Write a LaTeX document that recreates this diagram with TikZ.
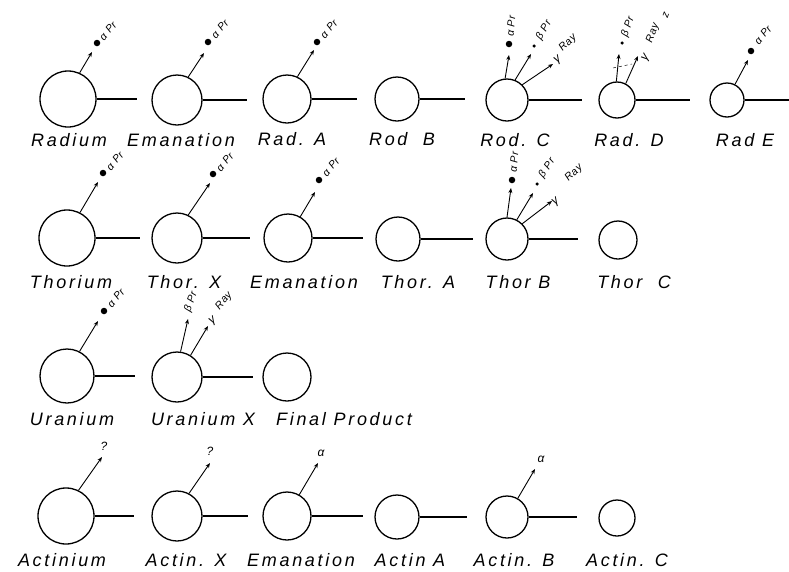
\documentclass[tikz,border=0pt]{standalone}
\usepackage{fontspec}
\newfontfamily\labfont[LetterSpace=15]{Liberation Sans}
\newfontfamily\smallfont[LetterSpace=6]{Liberation Sans}
\usetikzlibrary{arrows.meta}
\begin{document}
\begin{tikzpicture}[x=1pt,y=-1pt,
  atom/.style={circle,draw,line width=1.3pt,inner sep=0pt},
  bond/.style={line width=1.5pt},
  emit/.style={line width=0.9pt,-{Stealth[length=5pt,width=4pt]}},
  pdot/.style={circle,fill,inner sep=0pt,minimum size=6.5pt},
  bdot/.style={circle,fill,inner sep=0pt,minimum size=3.5pt},
  elemlabel/.style={font=\labfont\fontsize{18pt}{18pt}\selectfont\itshape},
  elab/.style={font=\smallfont\fontsize{10.5pt}{10.5pt}\selectfont\itshape,inner sep=1pt},
  glyph/.style={font=\smallfont\fontsize{12pt}{12pt}\selectfont\itshape,inner sep=1pt}]
\useasboundingbox (0,0) rectangle (789,571);

% ---------------- Row 1: Radium series ----------------
\node[atom,minimum size=56pt] (ra) at (68,99) {};
\coordinate (ra-e) at (137,99);
\draw[bond] (ra.east) -- (ra-e);
\coordinate (ra-t) at (92,52);
\draw[emit] (ra.66) -- (ra-t);
\node[pdot] (ra-d) at (97,43) {};
\node[elab,rotate=50] (ra-l) at (108,31) {α Pr};
\node[elemlabel] (ra-n) at (69,140) {Radium};

\node[atom,minimum size=50pt] (em1) at (177,100) {};
\coordinate (em1-e) at (247,100);
\draw[bond] (em1.east) -- (em1-e);
\coordinate (em1-t) at (204,53);
\draw[emit] (em1.64) -- (em1-t);
\node[pdot] (em1-d) at (208,42) {};
\node[elab,rotate=50] (em1-l) at (220,29) {α Pr};
\node[elemlabel] (em1-n) at (181,140) {Emanation};

\node[atom,minimum size=48pt] (rA) at (287,99) {};
\coordinate (rA-e) at (357,99);
\draw[bond] (rA.east) -- (rA-e);
\coordinate (rA-t) at (314,50);
\draw[emit] (rA.65) -- (rA-t);
\node[pdot] (rA-d) at (317,42) {};
\node[elab,rotate=50] (rA-l) at (329,29) {α Pr};
\node[elemlabel] (rA-n) at (292,139) {Rad. A};

\node[atom,minimum size=44pt] (rB) at (397,99) {};
\coordinate (rB-e) at (465,99);
\draw[bond] (rB.east) -- (rB-e);
\node[elemlabel] (rB-n) at (402,139) {Rod\ \ B};

\node[atom,minimum size=42pt] (rC) at (507,100) {};
\coordinate (rC-e) at (582,100);
\draw[bond] (rC.east) -- (rC-e);
\coordinate (rC-ta) at (509,55);
\draw[emit] (rC.95) -- (rC-ta);
\node[pdot] (rC-da) at (509,44) {};
\node[elab,rotate=85] (rC-la) at (511,26) {α Pr};
\coordinate (rC-tb) at (531,54);
\draw[emit] (rC.68) -- (rC-tb);
\node[bdot] (rC-db) at (534,46) {};
\node[elab,rotate=60] (rC-lb) at (544,30) {β Pr};
\coordinate (rC-tg) at (553,64);
\draw[emit] (rC.45) -- (rC-tg);
\node[glyph,rotate=40] (rC-g) at (558,60) {γ};
\node[elab,rotate=45] (rC-lg) at (568,43) {Ray};
\node[elemlabel] (rC-n) at (515,140) {Rod. C};

\node[atom,minimum size=36pt] (rD) at (617,100) {};
\coordinate (rD-e) at (690,100);
\draw[bond] (rD.east) -- (rD-e);
\coordinate (rD-tb) at (619,54);
\draw[emit] (rD.92) -- (rD-tb);
\node[bdot] (rD-db) at (622,43) {};
\node[elab,rotate=70] (rD-lb) at (628,27) {β Pr};
\coordinate (rD-tg) at (638,56);
\draw[emit] (rD.62) -- (rD-tg);
\node[glyph,rotate=60] (rD-g) at (646,58) {γ};
\node[elab,rotate=70] (rD-lg) at (653,33) {Ray};
\node[elab,rotate=70] (rD-z) at (666,15) {z};
\coordinate (rD-x1) at (613,68);
\coordinate (rD-x2) at (632,64);
\draw[dashed,line width=0.5pt] (rD-x1) -- (rD-x2);
\node[elemlabel] (rD-n) at (629,140) {Rad. D};

\node[atom,minimum size=34pt] (rE) at (727,100) {};
\coordinate (rE-e) at (789,100);
\draw[bond] (rE.east) -- (rE-e);
\coordinate (rE-t) at (748,60);
\draw[emit] (rE.63) -- (rE-t);
\node[pdot] (rE-d) at (751,51) {};
\node[elab,rotate=50] (rE-l) at (763,35) {α Pr};
\node[elemlabel] (rE-n) at (745,140) {Rad E};

% ---------------- Row 2: Thorium series ----------------
\node[atom,minimum size=56pt] (th) at (67,238) {};
\coordinate (th-e) at (140,238);
\draw[bond] (th.east) -- (th-e);
\coordinate (th-t) at (98,182);
\draw[emit] (th.63) -- (th-t);
\node[pdot] (th-d) at (103,173) {};
\node[elab,rotate=50] (th-l) at (115,161) {α Pr};
\node[elemlabel] (th-n) at (71,282) {Thorium};

\node[atom,minimum size=50pt] (tX) at (177,238) {};
\coordinate (tX-e) at (250,238);
\draw[bond] (tX.east) -- (tX-e);
\coordinate (tX-t) at (210,183);
\draw[emit] (tX.64) -- (tX-t);
\node[pdot] (tX-d) at (213,174) {};
\node[elab,rotate=50] (tX-l) at (225,162) {α Pr};
\node[elemlabel] (tX-n) at (184,282) {Thor. X};

\node[atom,minimum size=48pt] (em2) at (288,238) {};
\coordinate (em2-e) at (363,238);
\draw[bond] (em2.east) -- (em2-e);
\coordinate (em2-t) at (315,192);
\draw[emit] (em2.60) -- (em2-t);
\node[pdot] (em2-d) at (319,180) {};
\node[elab,rotate=50] (em2-l) at (331,167) {α Pr};
\node[elemlabel] (em2-n) at (304,282) {Emanation};

\node[atom,minimum size=44pt] (tA) at (398,239) {};
\coordinate (tA-e) at (473,239);
\draw[bond] (tA.east) -- (tA-e);
\node[elemlabel] (tA-n) at (418,282) {Thor. A};

\node[atom,minimum size=42pt] (tB) at (507,239) {};
\coordinate (tB-e) at (578,239);
\draw[bond] (tB.east) -- (tB-e);
\coordinate (tB-ta) at (511,188);
\draw[emit] (tB.90) -- (tB-ta);
\node[pdot] (tB-da) at (512,180) {};
\node[elab,rotate=85] (tB-la) at (514,162) {α Pr};
\coordinate (tB-tb) at (533,193);
\draw[emit] (tB.63) -- (tB-tb);
\node[bdot] (tB-db) at (537,184) {};
\node[elab,rotate=55] (tB-lb) at (547,168) {β Pr};
\coordinate (tB-tg) at (552,201);
\draw[emit] (tB.45) -- (tB-tg);
\node[glyph,rotate=40] (tB-g) at (556,202) {γ};
\node[elab,rotate=45] (tB-lg) at (574,173) {Ray};
\node[elemlabel] (tB-n) at (518,282) {Thor B};

\node[atom,minimum size=38pt] (tC) at (618,240) {};
\node[elemlabel] (tC-n) at (634,282) {Thor\ \ C};

% ---------------- Row 3: Uranium series ----------------
\node[atom,minimum size=54pt] (ur) at (67,376) {};
\coordinate (ur-e) at (135,376);
\draw[bond] (ur.east) -- (ur-e);
\coordinate (ur-t) at (98,321);
\draw[emit] (ur.63) -- (ur-t);
\node[pdot] (ur-d) at (104,311) {};
\node[elab,rotate=50] (ur-l) at (116,298) {α Pr};
\node[elemlabel] (ur-n) at (72,419) {Uranium};

\node[atom,minimum size=50pt] (uX) at (177,377) {};
\coordinate (uX-e) at (253,377);
\draw[bond] (uX.east) -- (uX-e);
\coordinate (uX-tb) at (188,319);
\draw[emit] (uX.82) -- (uX-tb);
\node[elab,rotate=70] (uX-lb) at (191,302) {β Pr};
\coordinate (uX-tg) at (208,326);
\draw[emit] (uX.58) -- (uX-tg);
\node[glyph,rotate=40] (uX-g) at (213,321) {γ};
\node[elab,rotate=50] (uX-lg) at (224,301) {Ray};
\node[elemlabel] (uX-n) at (203,419) {Uranium X};

\node[atom,minimum size=48pt] (fp) at (287,377) {};
\node[elemlabel] (fp-n) at (344,419) {Final Product};

% ---------------- Row 4: Actinium series ----------------
\node[atom,minimum size=56pt] (ac) at (66,516) {};
\coordinate (ac-e) at (134,516);
\draw[bond] (ac.east) -- (ac-e);
\coordinate (ac-t) at (102,457);
\draw[emit] (ac.64) -- (ac-t);
\node[glyph] (ac-q) at (104,446) {?};
\node[elemlabel] (ac-n) at (62,560) {Actinium};

\node[atom,minimum size=50pt] (aX) at (177,516) {};
\coordinate (aX-e) at (248,516);
\draw[bond] (aX.east) -- (aX-e);
\coordinate (aX-t) at (210,463);
\draw[emit] (aX.62) -- (aX-t);
\node[glyph] (aX-q) at (210,451) {?};
\node[elemlabel] (aX-n) at (186,560) {Actin. X};

\node[atom,minimum size=48pt] (em3) at (287,516) {};
\coordinate (em3-e) at (363,516);
\draw[bond] (em3.east) -- (em3-e);
\coordinate (em3-t) at (318,463);
\draw[emit] (em3.60) -- (em3-t);
\node[glyph] (em3-a) at (321,453) {α};
\node[elemlabel] (em3-n) at (301,560) {Emanation};

\node[atom,minimum size=44pt] (aA) at (397,517) {};
\coordinate (aA-e) at (467,517);
\draw[bond] (aA.east) -- (aA-e);
\node[elemlabel] (aA-n) at (410,560) {Actin A};

\node[atom,minimum size=42pt] (aB) at (507,517) {};
\coordinate (aB-e) at (577,517);
\draw[bond] (aB.east) -- (aB-e);
\coordinate (aB-t) at (535,469);
\draw[emit] (aB.60) -- (aB-t);
\node[glyph] (aB-a) at (541,459) {α};
\node[elemlabel] (aB-n) at (514,560) {Actin. B};

\node[atom,minimum size=36pt] (aC) at (617,518) {};
\node[elemlabel] (aC-n) at (627,560) {Actin. C};
\end{tikzpicture}
\end{document}
